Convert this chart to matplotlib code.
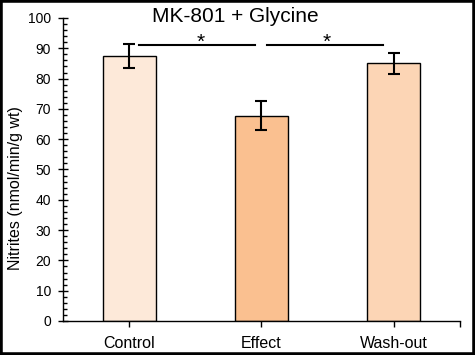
import matplotlib
matplotlib.use('Agg')
import matplotlib.pyplot as plt
from matplotlib.patches import Rectangle
from matplotlib.ticker import MultipleLocator

# Daten
categories = ['Control', 'Effect', 'Wash-out']
values = [87.5, 67.7, 85.0]
errors = [4.0, 4.8, 3.4]
colors = ['#FDE9D9', '#FAC090', '#FCD5B5']
title = 'MK-801 + Glycine'
ylabel = 'Nitrites (nmol/min/g wt)'
# Signifikanz-Linien: (von, bis, Hoehe)
sig_lines = [(0.075, 0.95, 91.1), (1.04, 1.92, 91.1)]
star_pos = [0.54, 1.49]

plt.rcParams['font.family'] = ['Liberation Sans', 'DejaVu Sans']

fig = plt.figure(figsize=(4.75, 3.55), dpi=100)
ax = fig.add_axes([0.1326, 0.0958, 0.8354, 0.8535])

x = range(len(categories))
ax.bar(x, values, width=0.4, color=colors, edgecolor='black', linewidth=1.0, zorder=2)
ax.errorbar(x, values, yerr=errors, fmt='none', ecolor='black', elinewidth=1.5,
            capsize=4, capthick=1.5, zorder=3)

for (x0, x1, h), sx in zip(sig_lines, star_pos):
    ax.plot([x0, x1], [h, h], color='black', linewidth=1.5, clip_on=False)
    ax.text(sx, h - 0.8, '*', ha='center', va='baseline', fontsize=15)

ax.set_xlim(-0.5, 2.5)
ax.set_ylim(0, 100)
ax.set_xticks(list(x))
ax.set_xticklabels(categories, fontsize=11.5)
ax.xaxis.set_minor_locator(MultipleLocator(2.5))
ax.tick_params(axis='x', which='major', direction='out', length=4, width=1, pad=7)
ax.tick_params(axis='x', which='minor', direction='out', length=4, width=1)
ax.yaxis.set_major_locator(MultipleLocator(10))
ax.yaxis.set_minor_locator(MultipleLocator(2))
ax.tick_params(axis='y', which='major', direction='inout', length=7, width=1, labelsize=10, pad=5)
ax.tick_params(axis='y', which='minor', direction='in', length=3, width=1)
ax.set_ylabel(ylabel, fontsize=11.5)
ax.yaxis.set_label_coords(-0.102, 0.44)

for s in ['top', 'right']:
    ax.spines[s].set_visible(False)
for s in ['left', 'bottom']:
    ax.spines[s].set_linewidth(1.0)

fig.text(0.495, 0.938, title, ha='center', va='baseline', fontsize=15)

# Rahmen um die ganze Grafik
fig.patches.append(Rectangle((0, 0), 1, 1, transform=fig.transFigure, fill=False,
                             edgecolor='black', linewidth=4))

fig.savefig('out.png', dpi=100)
